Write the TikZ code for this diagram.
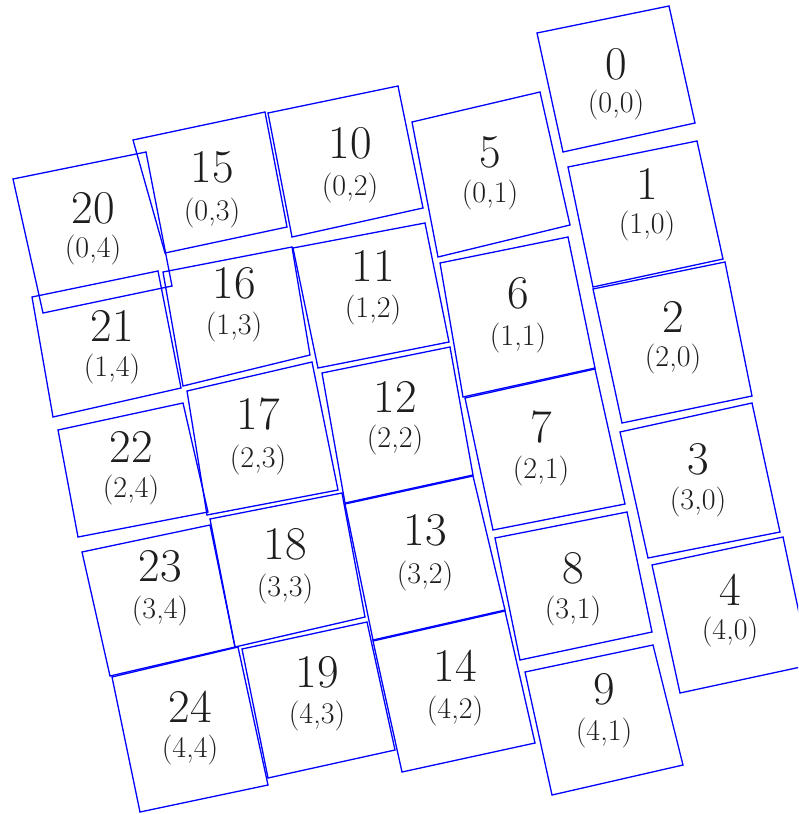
\documentclass[tikz,border=0pt]{standalone}
\begin{document}
\begin{tikzpicture}[x=1pt,y=-1pt,
  cell/.style={draw={rgb,255:red,0;green,0;blue,255}, line width=1.3pt, line join=miter},
  num/.style={font=\fontsize{47}{47}\selectfont, inner sep=0pt, text={rgb,255:red,30;green,30;blue,30}},
  crd/.style={font=\fontsize{30}{30}\selectfont, inner sep=0pt, text={rgb,255:red,30;green,30;blue,30}}]
\useasboundingbox (0,0) rectangle (798,814);
\clip (0,0) rectangle (798,814);
\newcommand{\gridcell}[9]{%
  \draw[cell] (#3) -- (#4) -- (#5) -- (#6) -- cycle;
  \node[num] (n#1) at (#7,#8) {#1};
  \node[crd] (c#1) at (#7,#9) {#2};
}
% column 0
\gridcell{0}{(0,0)}{537,33}{669,6}{695,123}{563,152}{616}{64}{105}
\gridcell{1}{(1,0)}{568,167}{697,141}{723,259}{593,287}{647}{184}{226}
\gridcell{2}{(2,0)}{593,289}{725,262}{752,396}{622,423}{673}{317}{359}
\gridcell{3}{(3,0)}{620,432}{752,403}{780,532}{648,558}{698}{459}{502}
\gridcell{4}{(4,0)}{652,565}{783,537}{810,665}{680,693}{730}{590}{632}
% column 1
\gridcell{5}{(0,1)}{412,122}{540,92}{570,225}{438,257}{490}{152}{195}
\gridcell{6}{(1,1)}{440,263}{568,237}{595,368}{463,397}{518}{293}{338}
\gridcell{7}{(2,1)}{465,398}{595,369}{625,504}{493,530}{541}{427}{471}
\gridcell{8}{(3,1)}{495,538}{627,512}{652,632}{520,660}{573}{568}{611}
\gridcell{9}{(4,1)}{525,672}{653,645}{683,765}{552,795}{604}{689}{733}
% column 2
\gridcell{10}{(0,2)}{268,113}{398,86}{423,208}{292,237}{350}{143}{188}
\gridcell{11}{(1,2)}{293,248}{425,223}{449,342}{318,368}{373}{266}{310}
\gridcell{12}{(2,2)}{322,373}{450,347}{473,475}{345,503}{395}{397}{440}
\gridcell{13}{(3,2)}{345,504}{473,476}{505,610}{373,640}{425}{530}{576}
\gridcell{14}{(4,2)}{373,641}{505,611}{535,743}{402,772}{455}{666}{711}
% column 3
\gridcell{15}{(0,3)}{133,140}{265,112}{287,227}{165,253}{212}{167}{213}
\gridcell{16}{(1,3)}{163,272}{292,247}{310,355}{183,386}{234}{283}{327}
\gridcell{17}{(2,3)}{187,391}{312,362}{338,490}{207,515}{258}{414}{460}
\gridcell{18}{(3,3)}{210,519}{342,493}{365,617}{235,647}{285}{544}{589}
\gridcell{19}{(4,3)}{242,649}{367,622}{395,750}{268,778}{317}{672}{716}
% column 4
\gridcell{20}{(0,4)}{13,179}{146,152}{172,286}{43,313}{93}{208}{250}
\gridcell{21}{(1,4)}{32,297}{158,271}{181,388}{53,417}{112}{326}{369}
\gridcell{22}{(2,4)}{58,430}{183,403}{208,512}{78,537}{131}{447}{490}
\gridcell{23}{(3,4)}{82,552}{210,525}{235,647}{110,676}{160}{566}{611}
\gridcell{24}{(4,4)}{112,677}{238,647}{268,785}{140,812}{190}{707}{750}
\end{tikzpicture}
\end{document}
